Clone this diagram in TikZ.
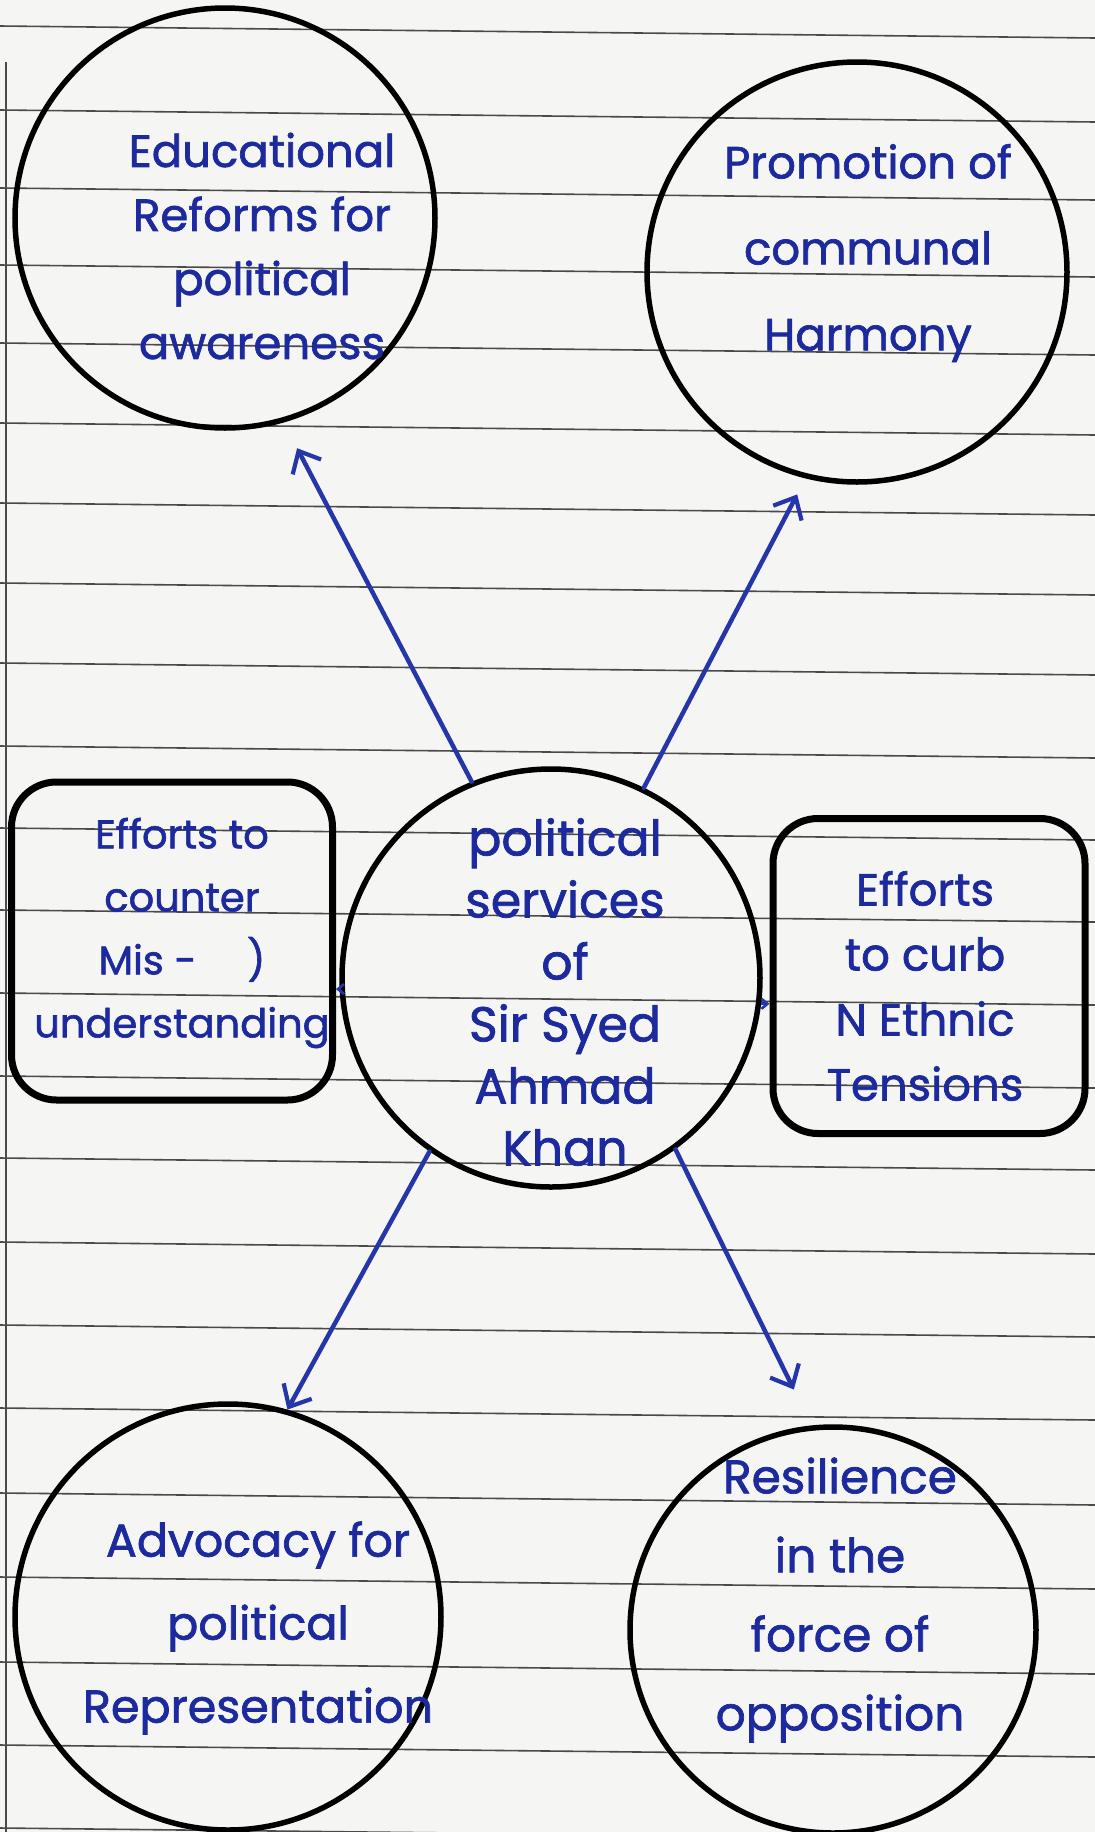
\documentclass[tikz,border=0pt]{standalone}
\usepackage{fontspec}
\setmainfont{Poppins}[FakeBold=1.5]
\usetikzlibrary{arrows.meta}
\definecolor{ink}{HTML}{1C2A9E}
\definecolor{pen}{HTML}{2536A8}
\definecolor{paper}{HTML}{F5F5F3}
\definecolor{rulec}{HTML}{4A4A4A}
\tikzset{
  bubble/.style={circle, draw=black, line width=5.5pt, inner sep=0pt},
  panel/.style={rectangle, rounded corners=45pt, draw=black, line width=7pt, inner sep=0pt},
  txt/.style={text=ink, align=center, inner sep=0pt},
  link/.style={draw=pen, line width=4.5pt, line cap=round,
    -{Straight Barb[length=18pt,width=32pt,line width=4.2pt]}},
  tick/.style={draw=pen, line width=3pt,
    -{Straight Barb[length=6pt,width=10pt,line width=2.6pt]}},
  ruling/.style={draw=rulec, line width=1.6pt}
}
\begin{document}
\begin{tikzpicture}[x=1pt,y=-1pt]
\fill[paper] (0,0) rectangle (1095,1832);
\useasboundingbox (0,0) rectangle (1095,1832);
% ruled paper
\foreach \yy in {26,110,188,265,343,423,503,583,663,746,828,910,993,1076,1158,1242,1325,1408,1493,1577,1662,1745,1828}
  \draw[ruling] (0,\yy) -- (1095,\yy+12);
\draw[ruling, line width=2.6pt] (6,62) -- (6,1832);

% shapes
\node[bubble, minimum size=420pt] (tl) at (225,218) {};
\node[bubble, minimum size=420pt] (tr) at (857,272) {};
\node[bubble, minimum size=418pt] (c) at (551,978) {};
\node[bubble, minimum size=426pt] (bl) at (228,1617) {};
\node[bubble, minimum size=406pt] (br) at (833,1630) {};
\node[panel, minimum width=321pt, minimum height=318pt] (lb) at (172,941) {};
\node[panel, minimum width=312pt, minimum height=315pt] (rb) at (929,976) {};

% texts
\node[txt, font=\fontsize{45}{64}\selectfont] (tlt) at (262,246)
  {Educational\\Reforms for\\political\\awareness};
\node[txt, font=\fontsize{45}{86}\selectfont] (trt) at (868,253)
  {Promotion of\\communal\\Harmony};
\node[txt, font=\fontsize{49}{62}\selectfont] (ct) at (565,992)
  {political\\services\\of\\Sir Syed\\Ahmad\\Khan};
\node[txt, font=\fontsize{40}{63}\selectfont] (lbt) at (182,933)
  {Efforts to\\counter\\Mis - \quad )\\understanding};
\node[txt, font=\fontsize{45}{65}\selectfont] (rbt) at (925,986)
  {Efforts\\to curb\\N Ethnic\\Tensions};
\node[txt, font=\fontsize{46}{83}\selectfont] (blt) at (258,1628)
  {Advocacy for\\political\\Representation};
\node[txt, font=\fontsize{47}{79}\selectfont] (brt) at (840,1600)
  {Resilience\\in the\\force of\\opposition};

% connectors
\draw[link, shorten >=29pt] (c.112) -- (tl.-74);
\draw[link, shorten >=18pt] (c.64) -- (tr.-104);
\draw[link] (c.-125) -- (bl.74);
\draw[link, shorten >=40pt] (c.-54) -- (br.96);
\draw[tick] (c.183) -- (c.183 -| lb.east);
\draw[tick] (c.-7) -- (c.-7 -| rb.west);
\end{tikzpicture}
\end{document}
